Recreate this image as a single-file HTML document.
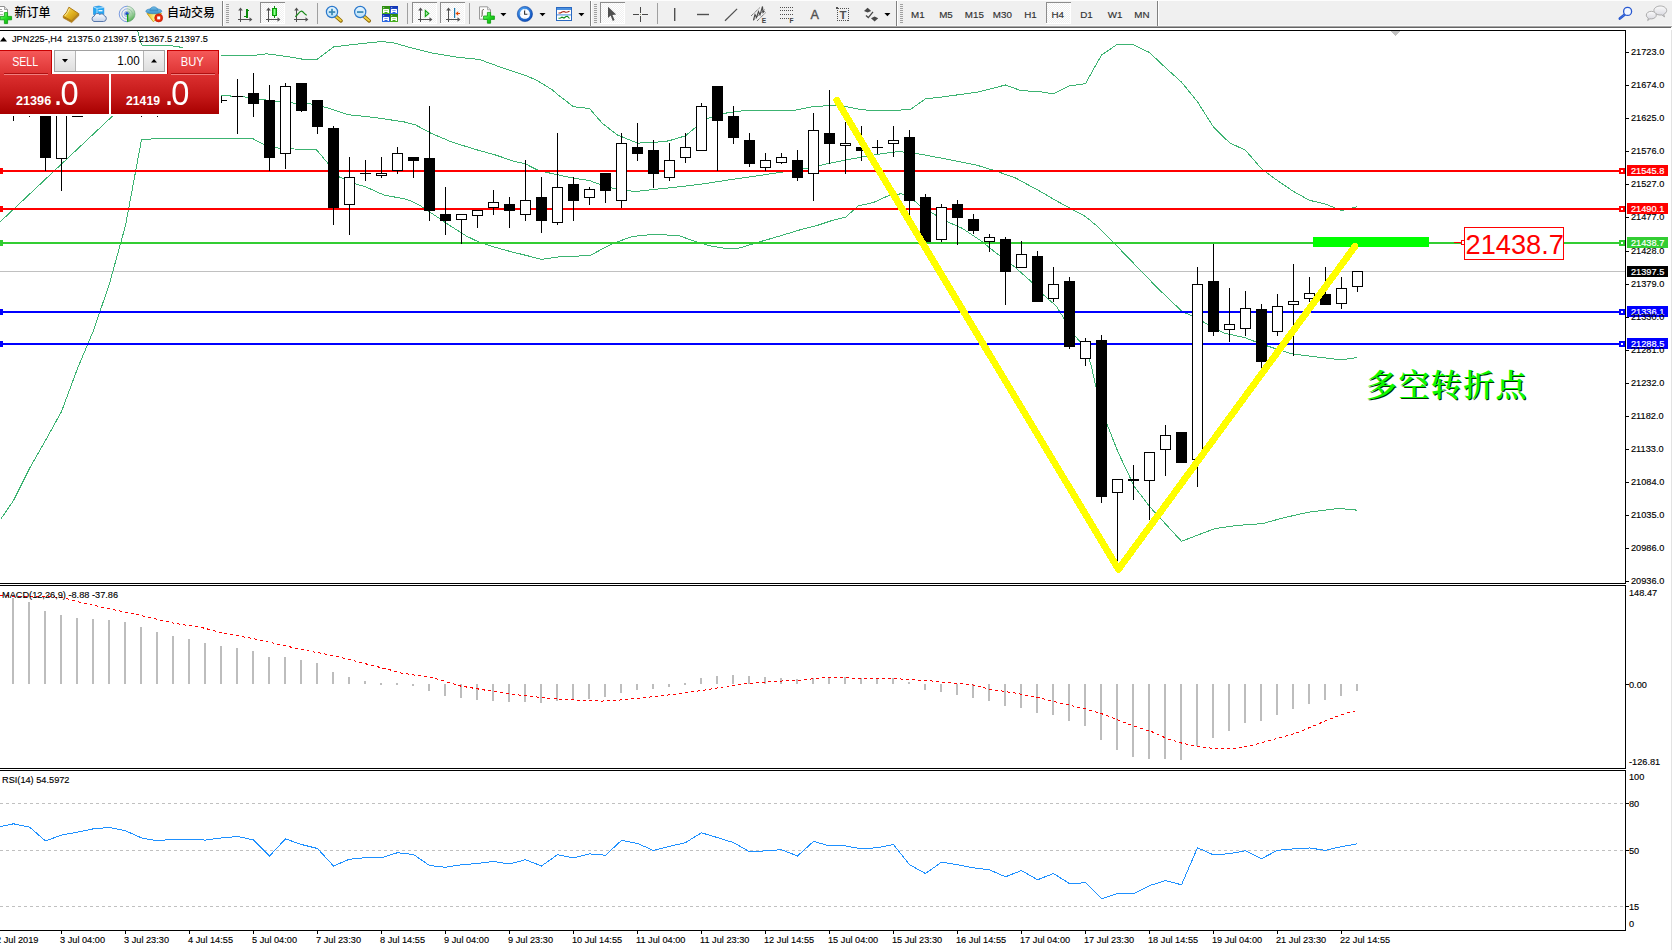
<!DOCTYPE html>
<html lang="zh"><head><meta charset="utf-8"><title>JPN225-,H4</title>
<style>
html,body{margin:0;padding:0;background:#fff;overflow:hidden}
body{width:1672px;height:950px;position:relative;font-family:'Liberation Sans', sans-serif}
svg{position:absolute;left:0;top:0;display:block}
.ax{font-family:'Liberation Sans', sans-serif;font-size:9.75px}
.cjk{font-family:"Liberation Sans","Noto Sans CJK SC",sans-serif;font-size:12px;font-weight:500}
</style></head><body>
<svg width="1672" height="950" viewBox="0 0 1672 950">
<rect width="1672" height="950" fill="#fff"/>
<g shape-rendering="crispEdges">
<rect x="0" y="271" width="1625" height="1" fill="#c0c0c0"/>
<g stroke="#3cb371" stroke-width="1">
<polyline points="137.5,30.5 141.5,45.0 175.5,46.1 182.5,47.7 189.5,50.5 221.5,55.1 250.5,55.8 266.5,53.8 285.5,56.3 301.5,59.0 317.5,59.0 333.5,47.0 351.5,44.7 381.5,41.5 393.5,42.8 413.5,48.5 431.5,52.9 456.5,57.1 479.5,59.5 501.5,67.5 526.5,75.8 537.5,80.7 552.5,90.0 557.5,94.5 573.5,106.7 589.5,108.5 602.5,123.5 617.5,135.0 637.5,143.1 653.5,142.5 668.5,140.9 685.5,135.8 696.5,126.5 707.5,118.5 726.5,113.0 741.5,111.0 766.5,110.3 794.5,110.3 809.5,107.2 815.5,106.5 830.5,105.5 845.5,106.5 861.5,109.8 888.5,111.0 910.5,109.3 925.5,98.9 941.5,97.1 977.5,92.1 1005.5,85.0 1021.5,90.8 1037.5,91.3 1053.5,93.8 1069.5,85.9 1085.5,83.6 1101.5,55.0 1117.5,44.2 1133.5,44.9 1149.5,52.5 1165.5,67.7 1181.5,82.1 1197.5,101.8 1213.5,127.1 1229.5,142.7 1245.5,150.3 1261.5,168.8 1277.5,180.6 1293.5,191.5 1309.5,200.3 1325.5,204.1 1341.5,210.5 1357.5,206.7" fill="none" />
<polyline points="0.5,221.5 111.5,117.0 160.5,70.5 221.5,95.5 229.5,95.5 231.5,96.5 243.5,96.8 263.5,99.7 278.5,101.5 292.5,103.0 310.5,103.9 326.5,107.5 348.5,114.7 376.5,117.7 404.5,122.0 415.5,124.9 430.5,133.0 450.5,141.5 473.5,148.9 496.5,155.3 514.5,161.5 524.5,163.4 538.5,170.5 552.5,173.7 572.5,178.0 589.5,180.5 602.5,185.5 617.5,189.5 635.5,191.5 653.5,189.5 673.5,187.5 703.5,183.8 728.5,180.0 754.5,176.2 779.5,172.5 794.5,170.5 809.5,167.9 825.5,164.1 850.5,159.1 876.5,154.5 898.5,151.5 914.5,153.2 926.5,155.3 952.5,160.3 977.5,165.4 995.5,170.9 1015.5,178.0 1040.5,191.5 1055.5,200.3 1070.5,208.5 1085.5,216.5 1098.5,227.3 1113.5,242.5 1127.5,257.0 1157.5,288.0 1182.5,311.9 1192.5,315.9 1209.5,325.3 1223.5,332.9 1245.5,337.9 1258.5,343.0 1273.5,348.0 1291.5,353.8 1309.5,356.1 1326.5,358.1 1341.5,359.9 1357.5,357.5" fill="none" />
<polyline points="0.5,519.5 13.5,500.5 29.5,468.5 45.5,440.5 61.5,411.5 77.5,368.5 93.5,330.5 109.5,283.5 125.5,225.5 141.5,139.8 157.5,138.5 166.5,138.1 246.5,138.1 253.5,139.0 264.5,145.0 280.5,148.5 316.5,149.8 328.5,164.0 339.5,177.1 354.5,183.5 366.5,187.2 384.5,195.3 404.5,198.7 410.5,200.8 420.5,205.8 433.5,214.5 450.5,226.0 466.5,236.1 478.5,241.9 491.5,246.2 509.5,251.3 526.5,255.5 541.5,259.4 562.5,256.3 589.5,255.8 602.5,248.8 615.5,242.5 632.5,236.5 653.5,234.4 678.5,235.5 696.5,241.9 711.5,246.2 728.5,248.8 739.5,248.0 759.5,241.9 779.5,236.1 804.5,228.5 815.5,226.0 830.5,221.0 845.5,217.2 858.5,205.8 873.5,202.5 888.5,195.7 901.5,193.7 911.5,198.2 921.5,207.1 947.5,221.7 962.5,228.5 980.5,240.5 995.5,252.5 1013.5,265.9 1030.5,281.0 1043.5,294.9 1056.5,306.3 1063.5,317.7 1075.5,336.5 1086.5,349.5 1091.5,367.0 1096.5,389.5 1107.5,425.5 1118.2,452.5 1134.3,486.5 1149.5,506.5 1181.5,541.3 1214.5,528.7 1237.5,525.4 1262.5,523.6 1283.5,517.8 1308.5,512.2 1338.5,508.4 1357.5,510.2" fill="none" />
</g>
<rect x="0" y="170" width="1625" height="2" fill="#ff0000"/>
<rect x="0" y="168" width="3" height="6" fill="#ff0000"/>
<rect x="1619" y="168" width="6" height="6" fill="#ff0000"/>
<rect x="1621" y="170" width="2" height="2" fill="#fff"/>
<rect x="1627" y="165" width="41" height="11" fill="#ff0000"/>
<text transform="translate(1631,173.6) scale(0.945,1)" class="ax" fill="#fff" stroke="#fff" stroke-width="0.2" text-anchor="start" xml:space="preserve">21545.8</text>
<rect x="0" y="208" width="1625" height="2" fill="#ff0000"/>
<rect x="0" y="206" width="3" height="6" fill="#ff0000"/>
<rect x="1619" y="206" width="6" height="6" fill="#ff0000"/>
<rect x="1621" y="208" width="2" height="2" fill="#fff"/>
<rect x="1627" y="203" width="41" height="11" fill="#ff0000"/>
<text transform="translate(1631,211.6) scale(0.945,1)" class="ax" fill="#fff" stroke="#fff" stroke-width="0.2" text-anchor="start" xml:space="preserve">21490.1</text>
<rect x="0" y="242" width="1625" height="2" fill="#32cd32"/>
<rect x="0" y="240" width="3" height="6" fill="#32cd32"/>
<rect x="1619" y="240" width="6" height="6" fill="#32cd32"/>
<rect x="1621" y="242" width="2" height="2" fill="#fff"/>
<rect x="1627" y="237" width="41" height="11" fill="#32cd32"/>
<text transform="translate(1631,245.6) scale(0.945,1)" class="ax" fill="#fff" stroke="#fff" stroke-width="0.2" text-anchor="start" xml:space="preserve">21438.7</text>
<rect x="0" y="311" width="1625" height="2" fill="#0000ff"/>
<rect x="0" y="309" width="3" height="6" fill="#0000ff"/>
<rect x="1619" y="309" width="6" height="6" fill="#0000ff"/>
<rect x="1621" y="311" width="2" height="2" fill="#fff"/>
<rect x="1627" y="306" width="41" height="11" fill="#0000ff"/>
<text transform="translate(1631,314.6) scale(0.945,1)" class="ax" fill="#fff" stroke="#fff" stroke-width="0.2" text-anchor="start" xml:space="preserve">21336.1</text>
<rect x="0" y="343" width="1625" height="2" fill="#0000ff"/>
<rect x="0" y="341" width="3" height="6" fill="#0000ff"/>
<rect x="1619" y="341" width="6" height="6" fill="#0000ff"/>
<rect x="1621" y="343" width="2" height="2" fill="#fff"/>
<rect x="1627" y="338" width="41" height="11" fill="#0000ff"/>
<text transform="translate(1631,346.6) scale(0.945,1)" class="ax" fill="#fff" stroke="#fff" stroke-width="0.2" text-anchor="start" xml:space="preserve">21288.5</text>
<g fill="#000">
<rect x="13" y="100" width="1" height="21"/>
<rect x="8" y="100" width="11" height="1"/>
<rect x="29" y="100" width="1" height="17"/>
<rect x="24" y="100" width="11" height="1"/>
<rect x="45" y="90" width="1" height="81"/>
<rect x="40" y="90" width="11" height="68"/>
<rect x="61" y="90" width="1" height="101"/>
<rect x="56" y="90" width="11" height="69"/>
<rect x="57" y="91" width="9" height="67" fill="#fff"/>
<rect x="77" y="100" width="1" height="17"/>
<rect x="72" y="116" width="11" height="1"/>
<rect x="141" y="100" width="1" height="17"/>
<rect x="136" y="100" width="11" height="1"/>
<rect x="157" y="100" width="1" height="17"/>
<rect x="152" y="100" width="11" height="1"/>
<rect x="221" y="96" width="1" height="7"/>
<rect x="216" y="100" width="11" height="1"/>
<rect x="237" y="79" width="1" height="55"/>
<rect x="232" y="96" width="11" height="1"/>
<rect x="253" y="73" width="1" height="44"/>
<rect x="248" y="93" width="11" height="11"/>
<rect x="269" y="85" width="1" height="86"/>
<rect x="264" y="100" width="11" height="58"/>
<rect x="285" y="83" width="1" height="86"/>
<rect x="280" y="86" width="11" height="68"/>
<rect x="281" y="87" width="9" height="66" fill="#fff"/>
<rect x="301" y="83" width="1" height="29"/>
<rect x="296" y="83" width="11" height="28"/>
<rect x="317" y="100" width="1" height="34"/>
<rect x="312" y="100" width="11" height="27"/>
<rect x="333" y="126" width="1" height="99"/>
<rect x="328" y="128" width="11" height="80"/>
<rect x="349" y="157" width="1" height="78"/>
<rect x="344" y="177" width="11" height="28"/>
<rect x="345" y="178" width="9" height="26" fill="#fff"/>
<rect x="365" y="160" width="1" height="21"/>
<rect x="360" y="173" width="11" height="1"/>
<rect x="381" y="157" width="1" height="21"/>
<rect x="376" y="173" width="11" height="3"/>
<rect x="377" y="174" width="9" height="1" fill="#fff"/>
<rect x="397" y="147" width="1" height="27"/>
<rect x="392" y="153" width="11" height="18"/>
<rect x="393" y="154" width="9" height="16" fill="#fff"/>
<rect x="413" y="157" width="1" height="21"/>
<rect x="408" y="157" width="11" height="4"/>
<rect x="429" y="106" width="1" height="115"/>
<rect x="424" y="158" width="11" height="53"/>
<rect x="445" y="187" width="1" height="48"/>
<rect x="440" y="214" width="11" height="7"/>
<rect x="461" y="214" width="1" height="30"/>
<rect x="456" y="214" width="11" height="6"/>
<rect x="457" y="215" width="9" height="4" fill="#fff"/>
<rect x="477" y="211" width="1" height="17"/>
<rect x="472" y="210" width="11" height="6"/>
<rect x="473" y="211" width="9" height="4" fill="#fff"/>
<rect x="493" y="190" width="1" height="25"/>
<rect x="488" y="202" width="11" height="6"/>
<rect x="489" y="203" width="9" height="4" fill="#fff"/>
<rect x="509" y="197" width="1" height="31"/>
<rect x="504" y="204" width="11" height="7"/>
<rect x="525" y="160" width="1" height="61"/>
<rect x="520" y="200" width="11" height="15"/>
<rect x="521" y="201" width="9" height="13" fill="#fff"/>
<rect x="541" y="177" width="1" height="56"/>
<rect x="536" y="197" width="11" height="24"/>
<rect x="557" y="133" width="1" height="92"/>
<rect x="552" y="187" width="11" height="36"/>
<rect x="553" y="188" width="9" height="34" fill="#fff"/>
<rect x="573" y="177" width="1" height="44"/>
<rect x="568" y="184" width="11" height="17"/>
<rect x="589" y="187" width="1" height="18"/>
<rect x="584" y="189" width="11" height="9"/>
<rect x="585" y="190" width="9" height="7" fill="#fff"/>
<rect x="605" y="173" width="1" height="30"/>
<rect x="600" y="173" width="11" height="18"/>
<rect x="621" y="133" width="1" height="75"/>
<rect x="616" y="143" width="11" height="58"/>
<rect x="617" y="144" width="9" height="56" fill="#fff"/>
<rect x="637" y="123" width="1" height="38"/>
<rect x="632" y="147" width="11" height="7"/>
<rect x="653" y="140" width="1" height="48"/>
<rect x="648" y="150" width="11" height="24"/>
<rect x="669" y="143" width="1" height="38"/>
<rect x="664" y="160" width="11" height="18"/>
<rect x="665" y="161" width="9" height="16" fill="#fff"/>
<rect x="685" y="133" width="1" height="30"/>
<rect x="680" y="147" width="11" height="11"/>
<rect x="681" y="148" width="9" height="9" fill="#fff"/>
<rect x="701" y="103" width="1" height="48"/>
<rect x="696" y="106" width="11" height="45"/>
<rect x="697" y="107" width="9" height="43" fill="#fff"/>
<rect x="717" y="86" width="1" height="85"/>
<rect x="712" y="86" width="11" height="35"/>
<rect x="733" y="106" width="1" height="38"/>
<rect x="728" y="116" width="11" height="22"/>
<rect x="749" y="133" width="1" height="34"/>
<rect x="744" y="140" width="11" height="24"/>
<rect x="765" y="153" width="1" height="18"/>
<rect x="760" y="160" width="11" height="8"/>
<rect x="761" y="161" width="9" height="6" fill="#fff"/>
<rect x="781" y="153" width="1" height="11"/>
<rect x="776" y="157" width="11" height="6"/>
<rect x="777" y="158" width="9" height="4" fill="#fff"/>
<rect x="797" y="150" width="1" height="31"/>
<rect x="792" y="160" width="11" height="18"/>
<rect x="813" y="113" width="1" height="88"/>
<rect x="808" y="130" width="11" height="44"/>
<rect x="809" y="131" width="9" height="42" fill="#fff"/>
<rect x="829" y="90" width="1" height="74"/>
<rect x="824" y="133" width="11" height="11"/>
<rect x="845" y="122" width="1" height="52"/>
<rect x="840" y="143" width="11" height="3"/>
<rect x="841" y="144" width="9" height="1" fill="#fff"/>
<rect x="861" y="126" width="1" height="35"/>
<rect x="856" y="147" width="11" height="4"/>
<rect x="877" y="140" width="1" height="14"/>
<rect x="872" y="147" width="11" height="1"/>
<rect x="893" y="126" width="1" height="31"/>
<rect x="888" y="140" width="11" height="4"/>
<rect x="889" y="141" width="9" height="2" fill="#fff"/>
<rect x="909" y="130" width="1" height="85"/>
<rect x="904" y="137" width="11" height="64"/>
<rect x="925" y="194" width="1" height="48"/>
<rect x="920" y="197" width="11" height="45"/>
<rect x="941" y="204" width="1" height="38"/>
<rect x="936" y="207" width="11" height="33"/>
<rect x="937" y="208" width="9" height="31" fill="#fff"/>
<rect x="957" y="200" width="1" height="45"/>
<rect x="952" y="204" width="11" height="14"/>
<rect x="973" y="214" width="1" height="20"/>
<rect x="968" y="219" width="11" height="12"/>
<rect x="989" y="234" width="1" height="18"/>
<rect x="984" y="237" width="11" height="5"/>
<rect x="985" y="238" width="9" height="3" fill="#fff"/>
<rect x="1005" y="237" width="1" height="68"/>
<rect x="1000" y="239" width="11" height="33"/>
<rect x="1021" y="241" width="1" height="27"/>
<rect x="1016" y="254" width="11" height="14"/>
<rect x="1017" y="255" width="9" height="12" fill="#fff"/>
<rect x="1037" y="251" width="1" height="51"/>
<rect x="1032" y="256" width="11" height="46"/>
<rect x="1053" y="267" width="1" height="35"/>
<rect x="1048" y="284" width="11" height="15"/>
<rect x="1049" y="285" width="9" height="13" fill="#fff"/>
<rect x="1069" y="277" width="1" height="72"/>
<rect x="1064" y="281" width="11" height="66"/>
<rect x="1085" y="338" width="1" height="28"/>
<rect x="1080" y="341" width="11" height="18"/>
<rect x="1081" y="342" width="9" height="16" fill="#fff"/>
<rect x="1101" y="335" width="1" height="168"/>
<rect x="1096" y="340" width="11" height="157"/>
<rect x="1117" y="479" width="1" height="82"/>
<rect x="1112" y="479" width="11" height="14"/>
<rect x="1113" y="480" width="9" height="12" fill="#fff"/>
<rect x="1133" y="465" width="1" height="35"/>
<rect x="1128" y="479" width="11" height="2"/>
<rect x="1149" y="452" width="1" height="68"/>
<rect x="1144" y="452" width="11" height="29"/>
<rect x="1145" y="453" width="9" height="27" fill="#fff"/>
<rect x="1165" y="425" width="1" height="51"/>
<rect x="1160" y="435" width="11" height="15"/>
<rect x="1161" y="436" width="9" height="13" fill="#fff"/>
<rect x="1181" y="432" width="1" height="31"/>
<rect x="1176" y="432" width="11" height="31"/>
<rect x="1197" y="267" width="1" height="220"/>
<rect x="1192" y="284" width="11" height="176"/>
<rect x="1193" y="285" width="9" height="174" fill="#fff"/>
<rect x="1213" y="244" width="1" height="92"/>
<rect x="1208" y="281" width="11" height="51"/>
<rect x="1229" y="288" width="1" height="54"/>
<rect x="1224" y="324" width="11" height="6"/>
<rect x="1225" y="325" width="9" height="4" fill="#fff"/>
<rect x="1245" y="291" width="1" height="45"/>
<rect x="1240" y="308" width="11" height="21"/>
<rect x="1241" y="309" width="9" height="19" fill="#fff"/>
<rect x="1261" y="304" width="1" height="64"/>
<rect x="1256" y="309" width="11" height="53"/>
<rect x="1277" y="294" width="1" height="42"/>
<rect x="1272" y="306" width="11" height="26"/>
<rect x="1273" y="307" width="9" height="24" fill="#fff"/>
<rect x="1293" y="264" width="1" height="92"/>
<rect x="1288" y="301" width="11" height="4"/>
<rect x="1289" y="302" width="9" height="2" fill="#fff"/>
<rect x="1309" y="277" width="1" height="25"/>
<rect x="1304" y="293" width="11" height="6"/>
<rect x="1305" y="294" width="9" height="4" fill="#fff"/>
<rect x="1325" y="267" width="1" height="38"/>
<rect x="1320" y="294" width="11" height="11"/>
<rect x="1341" y="277" width="1" height="32"/>
<rect x="1336" y="288" width="11" height="16"/>
<rect x="1337" y="289" width="9" height="14" fill="#fff"/>
<rect x="1357" y="271" width="1" height="21"/>
<rect x="1352" y="271" width="11" height="16"/>
<rect x="1353" y="272" width="9" height="14" fill="#fff"/>
</g>
<rect x="1313" y="237" width="116" height="10" fill="#00ff00"/>
</g>
<polyline points="836.7,100.2 1118.5,569.3 1355,246.3" fill="none" stroke="#ffff00" stroke-width="6.8" stroke-linejoin="round" stroke-linecap="round" shape-rendering="crispEdges"/>
<g shape-rendering="crispEdges">
<rect x="1454" y="242" width="8" height="1" fill="#ff0000"/>
<rect x="1461.5" y="240.5" width="3" height="4" fill="#fff" stroke="#ff0000"/>
<rect x="1464.5" y="227.5" width="99" height="32" fill="#fff" stroke="#ff0000"/>
</g>
<text transform="translate(1465.6,253.8) scale(0.965,1)" fill="#ff0000" font-family="'Liberation Sans', sans-serif" font-size="28.2px">21438.7</text>
<text x="1366" y="395.5" font-family="'Liberation Serif','Noto Serif CJK SC',serif" font-weight="600" font-size="31px" fill="#0cfa00" style="text-shadow:1px 1px 0 #023002" letter-spacing="1.4">多空转折点</text>
<g shape-rendering="crispEdges" fill="#000">
<rect x="0" y="30" width="1626" height="1"/>
<rect x="1625" y="30" width="1" height="901"/>
<rect x="1626" y="52" width="3" height="1"/>
<rect x="1626" y="85" width="3" height="1"/>
<rect x="1626" y="118" width="3" height="1"/>
<rect x="1626" y="151" width="3" height="1"/>
<rect x="1626" y="184" width="3" height="1"/>
<rect x="1626" y="217" width="3" height="1"/>
<rect x="1626" y="251" width="3" height="1"/>
<rect x="1626" y="284" width="3" height="1"/>
<rect x="1626" y="317" width="3" height="1"/>
<rect x="1626" y="350" width="3" height="1"/>
<rect x="1626" y="383" width="3" height="1"/>
<rect x="1626" y="416" width="3" height="1"/>
<rect x="1626" y="449" width="3" height="1"/>
<rect x="1626" y="482" width="3" height="1"/>
<rect x="1626" y="515" width="3" height="1"/>
<rect x="1626" y="548" width="3" height="1"/>
<rect x="1626" y="581" width="3" height="1"/>
<rect x="0" y="583" width="1626" height="1"/>
<rect x="0" y="585" width="1626" height="1"/>
<rect x="0" y="768" width="1626" height="1"/>
<rect x="0" y="770" width="1626" height="1"/>
<rect x="1625" y="584" width="1" height="1" fill="#fff"/><rect x="1625" y="769" width="1" height="1" fill="#fff"/>
<rect x="0" y="584" width="1625" height="1" fill="#fff"/><rect x="0" y="769" width="1625" height="1" fill="#fff"/>
<rect x="0" y="930" width="1626" height="1"/>
<rect x="61" y="931" width="1" height="3"/>
<rect x="125" y="931" width="1" height="3"/>
<rect x="189" y="931" width="1" height="3"/>
<rect x="253" y="931" width="1" height="3"/>
<rect x="317" y="931" width="1" height="3"/>
<rect x="381" y="931" width="1" height="3"/>
<rect x="445" y="931" width="1" height="3"/>
<rect x="509" y="931" width="1" height="3"/>
<rect x="573" y="931" width="1" height="3"/>
<rect x="637" y="931" width="1" height="3"/>
<rect x="701" y="931" width="1" height="3"/>
<rect x="765" y="931" width="1" height="3"/>
<rect x="829" y="931" width="1" height="3"/>
<rect x="893" y="931" width="1" height="3"/>
<rect x="957" y="931" width="1" height="3"/>
<rect x="1021" y="931" width="1" height="3"/>
<rect x="1085" y="931" width="1" height="3"/>
<rect x="1149" y="931" width="1" height="3"/>
<rect x="1213" y="931" width="1" height="3"/>
<rect x="1277" y="931" width="1" height="3"/>
<rect x="1341" y="931" width="1" height="3"/>
<rect x="1626" y="684" width="3" height="1"/>
<rect x="1626" y="803" width="3" height="1"/>
<rect x="1626" y="850" width="3" height="1"/>
<rect x="1626" y="906" width="3" height="1"/>
<polygon points="1391,31 1400,31 1395.5,36" fill="#c0c0c0"/>
</g>
<g fill="#000">
<text transform="translate(1631,55.4) scale(0.945,1)" class="ax" fill="#000" stroke="#000" stroke-width="0.14" text-anchor="start" xml:space="preserve">21723.0</text>
<text transform="translate(1631,88.4) scale(0.945,1)" class="ax" fill="#000" stroke="#000" stroke-width="0.14" text-anchor="start" xml:space="preserve">21674.0</text>
<text transform="translate(1631,121.4) scale(0.945,1)" class="ax" fill="#000" stroke="#000" stroke-width="0.14" text-anchor="start" xml:space="preserve">21625.0</text>
<text transform="translate(1631,154.4) scale(0.945,1)" class="ax" fill="#000" stroke="#000" stroke-width="0.14" text-anchor="start" xml:space="preserve">21576.0</text>
<text transform="translate(1631,187.4) scale(0.945,1)" class="ax" fill="#000" stroke="#000" stroke-width="0.14" text-anchor="start" xml:space="preserve">21527.0</text>
<text transform="translate(1631,220.4) scale(0.945,1)" class="ax" fill="#000" stroke="#000" stroke-width="0.14" text-anchor="start" xml:space="preserve">21477.0</text>
<text transform="translate(1631,254.4) scale(0.945,1)" class="ax" fill="#000" stroke="#000" stroke-width="0.14" text-anchor="start" xml:space="preserve">21428.0</text>
<text transform="translate(1631,287.4) scale(0.945,1)" class="ax" fill="#000" stroke="#000" stroke-width="0.14" text-anchor="start" xml:space="preserve">21379.0</text>
<text transform="translate(1631,320.4) scale(0.945,1)" class="ax" fill="#000" stroke="#000" stroke-width="0.14" text-anchor="start" xml:space="preserve">21330.0</text>
<text transform="translate(1631,353.4) scale(0.945,1)" class="ax" fill="#000" stroke="#000" stroke-width="0.14" text-anchor="start" xml:space="preserve">21281.0</text>
<text transform="translate(1631,386.4) scale(0.945,1)" class="ax" fill="#000" stroke="#000" stroke-width="0.14" text-anchor="start" xml:space="preserve">21232.0</text>
<text transform="translate(1631,419.4) scale(0.945,1)" class="ax" fill="#000" stroke="#000" stroke-width="0.14" text-anchor="start" xml:space="preserve">21182.0</text>
<text transform="translate(1631,452.4) scale(0.945,1)" class="ax" fill="#000" stroke="#000" stroke-width="0.14" text-anchor="start" xml:space="preserve">21133.0</text>
<text transform="translate(1631,485.4) scale(0.945,1)" class="ax" fill="#000" stroke="#000" stroke-width="0.14" text-anchor="start" xml:space="preserve">21084.0</text>
<text transform="translate(1631,518.4) scale(0.945,1)" class="ax" fill="#000" stroke="#000" stroke-width="0.14" text-anchor="start" xml:space="preserve">21035.0</text>
<text transform="translate(1631,551.4) scale(0.945,1)" class="ax" fill="#000" stroke="#000" stroke-width="0.14" text-anchor="start" xml:space="preserve">20986.0</text>
<text transform="translate(1631,584.4) scale(0.945,1)" class="ax" fill="#000" stroke="#000" stroke-width="0.14" text-anchor="start" xml:space="preserve">20936.0</text>
</g>
<rect x="1627" y="266" width="41" height="11" fill="#000" shape-rendering="crispEdges"/>
<text transform="translate(1631,274.6) scale(0.945,1)" class="ax" fill="#fff" stroke="#fff" stroke-width="0.2" text-anchor="start" xml:space="preserve">21397.5</text>
<g shape-rendering="crispEdges">
<g fill="#bdbdbd">
<rect x="12" y="598" width="2" height="86"/>
<rect x="28" y="602" width="2" height="82"/>
<rect x="44" y="611" width="2" height="73"/>
<rect x="60" y="615" width="2" height="69"/>
<rect x="76" y="618" width="2" height="66"/>
<rect x="92" y="619" width="2" height="65"/>
<rect x="108" y="620" width="2" height="64"/>
<rect x="124" y="622" width="2" height="62"/>
<rect x="140" y="627" width="2" height="57"/>
<rect x="156" y="632" width="2" height="52"/>
<rect x="172" y="636" width="2" height="48"/>
<rect x="188" y="639" width="2" height="45"/>
<rect x="204" y="643" width="2" height="41"/>
<rect x="220" y="646" width="2" height="38"/>
<rect x="236" y="648" width="2" height="36"/>
<rect x="252" y="651" width="2" height="33"/>
<rect x="268" y="657" width="2" height="27"/>
<rect x="284" y="657" width="2" height="27"/>
<rect x="300" y="660" width="2" height="24"/>
<rect x="316" y="663" width="2" height="21"/>
<rect x="332" y="672" width="2" height="12"/>
<rect x="348" y="677" width="2" height="7"/>
<rect x="364" y="681" width="2" height="3"/>
<rect x="380" y="683" width="2" height="2"/>
<rect x="396" y="683" width="2" height="2"/>
<rect x="412" y="684" width="2" height="2"/>
<rect x="428" y="684" width="2" height="7"/>
<rect x="444" y="684" width="2" height="12"/>
<rect x="460" y="684" width="2" height="14"/>
<rect x="476" y="684" width="2" height="16"/>
<rect x="492" y="684" width="2" height="17"/>
<rect x="508" y="684" width="2" height="18"/>
<rect x="524" y="684" width="2" height="18"/>
<rect x="540" y="684" width="2" height="19"/>
<rect x="556" y="684" width="2" height="17"/>
<rect x="572" y="684" width="2" height="16"/>
<rect x="588" y="684" width="2" height="15"/>
<rect x="604" y="684" width="2" height="13"/>
<rect x="620" y="684" width="2" height="9"/>
<rect x="636" y="684" width="2" height="6"/>
<rect x="652" y="684" width="2" height="5"/>
<rect x="668" y="684" width="2" height="3"/>
<rect x="684" y="683" width="2" height="2"/>
<rect x="700" y="678" width="2" height="6"/>
<rect x="716" y="676" width="2" height="8"/>
<rect x="732" y="675" width="2" height="9"/>
<rect x="748" y="676" width="2" height="8"/>
<rect x="764" y="677" width="2" height="7"/>
<rect x="780" y="678" width="2" height="6"/>
<rect x="796" y="679" width="2" height="5"/>
<rect x="812" y="678" width="2" height="6"/>
<rect x="828" y="678" width="2" height="6"/>
<rect x="844" y="677" width="2" height="7"/>
<rect x="860" y="678" width="2" height="6"/>
<rect x="876" y="678" width="2" height="6"/>
<rect x="892" y="678" width="2" height="6"/>
<rect x="908" y="682" width="2" height="2"/>
<rect x="924" y="684" width="2" height="6"/>
<rect x="940" y="684" width="2" height="8"/>
<rect x="956" y="684" width="2" height="11"/>
<rect x="972" y="684" width="2" height="14"/>
<rect x="988" y="684" width="2" height="17"/>
<rect x="1004" y="684" width="2" height="22"/>
<rect x="1020" y="684" width="2" height="24"/>
<rect x="1036" y="684" width="2" height="29"/>
<rect x="1052" y="684" width="2" height="31"/>
<rect x="1068" y="684" width="2" height="37"/>
<rect x="1084" y="684" width="2" height="42"/>
<rect x="1100" y="684" width="2" height="56"/>
<rect x="1116" y="684" width="2" height="66"/>
<rect x="1132" y="684" width="2" height="73"/>
<rect x="1148" y="684" width="2" height="75"/>
<rect x="1164" y="684" width="2" height="75"/>
<rect x="1180" y="684" width="2" height="76"/>
<rect x="1196" y="684" width="2" height="62"/>
<rect x="1212" y="684" width="2" height="54"/>
<rect x="1228" y="684" width="2" height="47"/>
<rect x="1244" y="684" width="2" height="39"/>
<rect x="1260" y="684" width="2" height="37"/>
<rect x="1276" y="684" width="2" height="31"/>
<rect x="1292" y="684" width="2" height="25"/>
<rect x="1308" y="684" width="2" height="20"/>
<rect x="1324" y="684" width="2" height="16"/>
<rect x="1340" y="684" width="2" height="12"/>
<rect x="1356" y="684" width="2" height="7"/>
</g>
<polyline points="0.5,595.9 45.5,596.5 63.5,597.5 69.5,599.5 82.5,602.8 100.5,606.9 136.5,614.5 173.5,623.2 201.5,627.5 226.5,633.8 251.5,638.3 276.5,643.8 301.5,649.5 334.5,655.9 364.5,663.5 392.5,670.5 400.5,672.9 433.5,678.0 460.5,686.0 490.5,691.0 526.5,696.0 551.5,698.5 576.5,700.1 601.5,701.1 614.5,700.5 639.5,698.1 664.5,695.5 689.5,692.3 714.5,688.5 739.5,684.2 764.5,682.2 789.5,680.5 800.5,680.2 823.5,677.7 850.5,678.0 900.5,679.0 931.5,681.0 971.5,684.7 988.5,689.0 1013.5,692.8 1039.5,697.8 1064.5,704.1 1084.5,708.6 1101.5,713.6 1119.5,720.7 1134.5,726.2 1152.5,732.0 1167.5,738.8 1182.5,743.3 1197.5,746.3 1212.5,748.3 1217.5,749.0 1240.5,747.9 1256.5,744.2 1276.5,738.6 1296.5,733.0 1313.5,725.9 1330.5,718.8 1347.5,712.6 1357.5,710.5" fill="none" stroke="#ff0000" stroke-width="1" stroke-dasharray="3 3"/>
</g>
<text transform="translate(2,598) scale(0.945,1)" class="ax" fill="#000" stroke="#000" stroke-width="0.14" text-anchor="start" xml:space="preserve">MACD(12,26,9) -8.88 -37.86</text>
<text transform="translate(1629,596) scale(0.945,1)" class="ax" fill="#000" stroke="#000" stroke-width="0.14" text-anchor="start" xml:space="preserve">148.47</text>
<text transform="translate(1629,688) scale(0.945,1)" class="ax" fill="#000" stroke="#000" stroke-width="0.14" text-anchor="start" xml:space="preserve">0.00</text>
<text transform="translate(1629,765) scale(0.945,1)" class="ax" fill="#000" stroke="#000" stroke-width="0.14" text-anchor="start" xml:space="preserve">-126.81</text>
<g shape-rendering="crispEdges">
<line x1="0" y1="803.5" x2="1625" y2="803.5" stroke="#c0c0c0" stroke-dasharray="3 3"/>
<line x1="0" y1="850.5" x2="1625" y2="850.5" stroke="#c0c0c0" stroke-dasharray="3 3"/>
<line x1="0" y1="906.5" x2="1625" y2="906.5" stroke="#c0c0c0" stroke-dasharray="3 3"/>
<polyline points="0.5,826.5 13.5,823.8 29.5,827.1 45.5,840.9 61.5,835.1 77.5,832.1 93.5,828.8 109.5,827.5 125.5,830.8 141.5,837.9 157.5,840.9 173.5,839.1 189.5,839.1 205.5,840.1 221.5,837.9 237.5,836.5 253.5,839.9 269.5,856.0 285.5,838.9 301.5,844.5 317.5,848.5 333.5,866.0 349.5,859.2 365.5,857.7 381.5,857.7 397.5,852.7 413.5,854.5 429.5,865.5 445.5,867.3 461.5,864.7 477.5,863.5 493.5,861.5 509.5,864.0 525.5,859.7 541.5,866.0 557.5,854.7 573.5,858.0 589.5,853.9 605.5,855.2 621.5,840.4 637.5,843.4 653.5,850.5 669.5,846.4 685.5,842.6 701.5,832.8 717.5,837.6 733.5,842.6 749.5,851.7 765.5,850.9 781.5,849.7 797.5,856.0 813.5,841.4 829.5,845.9 845.5,845.9 861.5,848.9 877.5,847.7 893.5,844.6 909.5,864.7 925.5,873.5 941.5,862.2 957.5,864.7 973.5,867.8 989.5,869.8 1005.5,876.8 1021.5,870.5 1037.5,879.8 1053.5,873.5 1069.5,883.6 1085.5,882.8 1101.5,898.7 1117.5,893.6 1133.5,893.6 1149.5,885.6 1165.5,880.6 1181.5,884.8 1197.5,847.7 1213.5,854.9 1229.5,853.7 1245.5,850.8 1261.5,858.7 1277.5,850.3 1293.5,848.9 1309.5,848.0 1325.5,850.3 1341.5,846.6 1357.5,843.8" fill="none" stroke="#1e90ff" stroke-width="1"/>
</g>
<text transform="translate(2,783) scale(0.945,1)" class="ax" fill="#000" stroke="#000" stroke-width="0.14" text-anchor="start" xml:space="preserve">RSI(14) 54.5972</text>
<text transform="translate(1629,780.4) scale(0.945,1)" class="ax" fill="#000" stroke="#000" stroke-width="0.14" text-anchor="start" xml:space="preserve">100</text>
<text transform="translate(1629,807.4) scale(0.945,1)" class="ax" fill="#000" stroke="#000" stroke-width="0.14" text-anchor="start" xml:space="preserve">80</text>
<text transform="translate(1629,854.4) scale(0.945,1)" class="ax" fill="#000" stroke="#000" stroke-width="0.14" text-anchor="start" xml:space="preserve">50</text>
<text transform="translate(1629,910.4) scale(0.945,1)" class="ax" fill="#000" stroke="#000" stroke-width="0.14" text-anchor="start" xml:space="preserve">15</text>
<text transform="translate(1629,927.4) scale(0.945,1)" class="ax" fill="#000" stroke="#000" stroke-width="0.14" text-anchor="start" xml:space="preserve">0</text>
<text transform="translate(-4,943) scale(0.945,1)" class="ax" fill="#000" stroke="#000" stroke-width="0.14" text-anchor="start" xml:space="preserve">2 Jul 2019</text>
<text transform="translate(60,943) scale(0.945,1)" class="ax" fill="#000" stroke="#000" stroke-width="0.14" text-anchor="start" xml:space="preserve">3 Jul 04:00</text>
<text transform="translate(124,943) scale(0.945,1)" class="ax" fill="#000" stroke="#000" stroke-width="0.14" text-anchor="start" xml:space="preserve">3 Jul 23:30</text>
<text transform="translate(188,943) scale(0.945,1)" class="ax" fill="#000" stroke="#000" stroke-width="0.14" text-anchor="start" xml:space="preserve">4 Jul 14:55</text>
<text transform="translate(252,943) scale(0.945,1)" class="ax" fill="#000" stroke="#000" stroke-width="0.14" text-anchor="start" xml:space="preserve">5 Jul 04:00</text>
<text transform="translate(316,943) scale(0.945,1)" class="ax" fill="#000" stroke="#000" stroke-width="0.14" text-anchor="start" xml:space="preserve">7 Jul 23:30</text>
<text transform="translate(380,943) scale(0.945,1)" class="ax" fill="#000" stroke="#000" stroke-width="0.14" text-anchor="start" xml:space="preserve">8 Jul 14:55</text>
<text transform="translate(444,943) scale(0.945,1)" class="ax" fill="#000" stroke="#000" stroke-width="0.14" text-anchor="start" xml:space="preserve">9 Jul 04:00</text>
<text transform="translate(508,943) scale(0.945,1)" class="ax" fill="#000" stroke="#000" stroke-width="0.14" text-anchor="start" xml:space="preserve">9 Jul 23:30</text>
<text transform="translate(572,943) scale(0.945,1)" class="ax" fill="#000" stroke="#000" stroke-width="0.14" text-anchor="start" xml:space="preserve">10 Jul 14:55</text>
<text transform="translate(636,943) scale(0.945,1)" class="ax" fill="#000" stroke="#000" stroke-width="0.14" text-anchor="start" xml:space="preserve">11 Jul 04:00</text>
<text transform="translate(700,943) scale(0.945,1)" class="ax" fill="#000" stroke="#000" stroke-width="0.14" text-anchor="start" xml:space="preserve">11 Jul 23:30</text>
<text transform="translate(764,943) scale(0.945,1)" class="ax" fill="#000" stroke="#000" stroke-width="0.14" text-anchor="start" xml:space="preserve">12 Jul 14:55</text>
<text transform="translate(828,943) scale(0.945,1)" class="ax" fill="#000" stroke="#000" stroke-width="0.14" text-anchor="start" xml:space="preserve">15 Jul 04:00</text>
<text transform="translate(892,943) scale(0.945,1)" class="ax" fill="#000" stroke="#000" stroke-width="0.14" text-anchor="start" xml:space="preserve">15 Jul 23:30</text>
<text transform="translate(956,943) scale(0.945,1)" class="ax" fill="#000" stroke="#000" stroke-width="0.14" text-anchor="start" xml:space="preserve">16 Jul 14:55</text>
<text transform="translate(1020,943) scale(0.945,1)" class="ax" fill="#000" stroke="#000" stroke-width="0.14" text-anchor="start" xml:space="preserve">17 Jul 04:00</text>
<text transform="translate(1084,943) scale(0.945,1)" class="ax" fill="#000" stroke="#000" stroke-width="0.14" text-anchor="start" xml:space="preserve">17 Jul 23:30</text>
<text transform="translate(1148,943) scale(0.945,1)" class="ax" fill="#000" stroke="#000" stroke-width="0.14" text-anchor="start" xml:space="preserve">18 Jul 14:55</text>
<text transform="translate(1212,943) scale(0.945,1)" class="ax" fill="#000" stroke="#000" stroke-width="0.14" text-anchor="start" xml:space="preserve">19 Jul 04:00</text>
<text transform="translate(1276,943) scale(0.945,1)" class="ax" fill="#000" stroke="#000" stroke-width="0.14" text-anchor="start" xml:space="preserve">21 Jul 23:30</text>
<text transform="translate(1340,943) scale(0.945,1)" class="ax" fill="#000" stroke="#000" stroke-width="0.14" text-anchor="start" xml:space="preserve">22 Jul 14:55</text>
<polygon points="0,41.5 3.5,37 7,41.5" fill="#000"/>
<text transform="translate(12,41.8) scale(0.945,1)" class="ax" fill="#000" stroke="#000" stroke-width="0.14" text-anchor="start" xml:space="preserve">JPN225-,H4  21375.0 21397.5 21367.5 21397.5</text>
<rect x="1671" y="28" width="1" height="922" fill="#e3e3e3"/>
<defs>
<linearGradient id="gTab" x1="0" y1="0" x2="0" y2="1"><stop offset="0" stop-color="#f65a5a"/><stop offset="1" stop-color="#dc3232"/></linearGradient>
<linearGradient id="gBox" x1="0" y1="0" x2="0" y2="1"><stop offset="0" stop-color="#dc3030"/><stop offset="0.55" stop-color="#c41818"/><stop offset="1" stop-color="#a80000"/></linearGradient>
<linearGradient id="gBtn" x1="0" y1="0" x2="0" y2="1"><stop offset="0" stop-color="#f4f4f4"/><stop offset="1" stop-color="#dedede"/></linearGradient>
<filter id="thin" x="-10%" y="-10%" width="120%" height="120%"><feMorphology operator="erode" radius="0.42"/></filter>
</defs>
<g id="panel">
<rect x="0" y="48" width="221" height="68" fill="#fff"/>
<g shape-rendering="crispEdges">
<rect x="0" y="50" width="52" height="25" fill="url(#gTab)"/>
<rect x="0" y="50" width="52" height="1" fill="#c80000"/><rect x="51" y="50" width="1" height="24" fill="#c80000"/>
<rect x="167" y="50" width="52" height="25" fill="url(#gTab)"/>
<rect x="167" y="50" width="52" height="1" fill="#c80000"/><rect x="167" y="50" width="1" height="24" fill="#c80000"/><rect x="218" y="50" width="1" height="24" fill="#c80000"/>
<rect x="0" y="74" width="109" height="40" fill="url(#gBox)"/>
<rect x="111" y="74" width="108" height="40" fill="url(#gBox)"/>
<rect x="4" y="73" width="44" height="1" fill="#b01010"/><rect x="4" y="74" width="44" height="1" fill="#f08080"/>
<rect x="171" y="73" width="44" height="1" fill="#b01010"/><rect x="171" y="74" width="44" height="1" fill="#f08080"/>
<rect x="54.5" y="50.5" width="110" height="21" fill="#fff" stroke="#a0a0a0"/>
<rect x="55" y="51" width="20" height="20" fill="url(#gBtn)"/>
<rect x="144" y="51" width="20" height="20" fill="url(#gBtn)"/>
<rect x="75" y="51" width="1" height="20" fill="#b4b4b4"/><rect x="143" y="51" width="1" height="20" fill="#b4b4b4"/>
</g>
<polygon points="62,59 68,59 65,62.5" fill="#000"/>
<polygon points="151,62.5 157,62.5 154,59" fill="#000"/>
<text x="139.8" y="64.7" text-anchor="end" font-family="'Liberation Sans',sans-serif" font-size="12px" fill="#000" textLength="22.6" lengthAdjust="spacingAndGlyphs">1.00</text>
<text x="25.2" y="65.8" text-anchor="middle" font-family="'Liberation Sans',sans-serif" font-size="12.4px" fill="#fff" textLength="26" lengthAdjust="spacingAndGlyphs">SELL</text>
<text x="192.2" y="65.8" text-anchor="middle" font-family="'Liberation Sans',sans-serif" font-size="12.4px" fill="#fff" textLength="23" lengthAdjust="spacingAndGlyphs">BUY</text>
<text x="16" y="104.5" font-family="'Liberation Sans',sans-serif" font-weight="bold" font-size="12px" fill="#fff" textLength="35.2" lengthAdjust="spacingAndGlyphs">21396</text>
<text x="126" y="104.5" font-family="'Liberation Sans',sans-serif" font-weight="bold" font-size="12px" fill="#fff" textLength="34" lengthAdjust="spacingAndGlyphs">21419</text>
<g filter="url(#thin)" font-family="'Liberation Sans',sans-serif" font-size="35px" fill="#fff">
<text transform="translate(53.6,105.4) scale(0.93,1)">.</text>
<text transform="translate(60.4,105.4) scale(0.93,1)">0</text>
<text transform="translate(164.6,105.4) scale(0.93,1)">.</text>
<text transform="translate(171.2,105.4) scale(0.93,1)">0</text>
</g>
</g>

<defs>
<pattern id="chk" width="2" height="2" patternUnits="userSpaceOnUse"><rect width="2" height="2" fill="#f0f0f0"/><rect width="1" height="1" fill="#fff"/><rect x="1" y="1" width="1" height="1" fill="#fff"/></pattern>
<linearGradient id="gPlus" x1="0" y1="0" x2="1" y2="1"><stop offset="0" stop-color="#8dff8d"/><stop offset="0.5" stop-color="#22dd22"/><stop offset="1" stop-color="#0aa00a"/></linearGradient>
<linearGradient id="gGold" x1="0" y1="0" x2="1" y2="1"><stop offset="0" stop-color="#f8e070"/><stop offset="0.5" stop-color="#e2b420"/><stop offset="1" stop-color="#b07808"/></linearGradient>
<linearGradient id="gCandle" x1="0" y1="0" x2="1" y2="0"><stop offset="0" stop-color="#00c000"/><stop offset="0.5" stop-color="#90ff90"/><stop offset="1" stop-color="#00c000"/></linearGradient>
<linearGradient id="gLens" x1="0" y1="0" x2="0" y2="1"><stop offset="0" stop-color="#e8f6ff"/><stop offset="1" stop-color="#b8e0f8"/></linearGradient>
<linearGradient id="gCloud" x1="0" y1="0" x2="0" y2="1"><stop offset="0" stop-color="#ffffff"/><stop offset="1" stop-color="#c4d2e8"/></linearGradient>
<radialGradient id="gClock" cx="0.4" cy="0.35" r="0.7"><stop offset="0" stop-color="#60b8ff"/><stop offset="1" stop-color="#0848b8"/></radialGradient>
<linearGradient id="gBlueSq" x1="0" y1="0" x2="0" y2="1"><stop offset="0" stop-color="#1030b0"/><stop offset="1" stop-color="#3070e8"/></linearGradient>
<linearGradient id="gGreenSq" x1="0" y1="0" x2="0" y2="1"><stop offset="0" stop-color="#2a8a10"/><stop offset="1" stop-color="#48b020"/></linearGradient>
<linearGradient id="gHat" x1="0" y1="0" x2="0" y2="1"><stop offset="0" stop-color="#7cc4ec"/><stop offset="1" stop-color="#3c90c8"/></linearGradient>
<linearGradient id="gCone" x1="0" y1="0" x2="1" y2="0"><stop offset="0" stop-color="#e8b818"/><stop offset="0.5" stop-color="#fff088"/><stop offset="1" stop-color="#e8c030"/></linearGradient>
<linearGradient id="gBub" x1="0" y1="0" x2="0" y2="1"><stop offset="0" stop-color="#fafafa"/><stop offset="1" stop-color="#d4d4dc"/></linearGradient>
<linearGradient id="gSig" x1="0.2" y1="0" x2="0.6" y2="1"><stop offset="0" stop-color="#d8ecd8" stop-opacity="0.5"/><stop offset="0.55" stop-color="#88c888" stop-opacity="0.75"/><stop offset="1" stop-color="#38a038" stop-opacity="0.95"/></linearGradient>
</defs>
<g id="toolbar">
<rect x="0" y="0" width="1672" height="28" fill="#f0f0f0"/>
<rect x="0" y="0" width="1672" height="1" fill="#fdfdfd"/>
<rect x="0" y="25" width="1672" height="1" fill="#f8f8f8"/>
<rect x="0" y="26" width="1672" height="1" fill="#a8a8a8"/>
<rect x="0" y="27" width="1671" height="1" fill="#646464"/>
<rect x="0" y="28" width="1672" height="2" fill="#fff"/>
<g shape-rendering="crispEdges">
<rect x="222" y="1" width="1" height="25" fill="#808080"/><rect x="223" y="1" width="1" height="25" fill="#fff"/>
<rect x="226" y="4" width="3" height="1" fill="#a0a0a0"/>
<rect x="226" y="6" width="3" height="1" fill="#a0a0a0"/>
<rect x="226" y="8" width="3" height="1" fill="#a0a0a0"/>
<rect x="226" y="10" width="3" height="1" fill="#a0a0a0"/>
<rect x="226" y="12" width="3" height="1" fill="#a0a0a0"/>
<rect x="226" y="14" width="3" height="1" fill="#a0a0a0"/>
<rect x="226" y="16" width="3" height="1" fill="#a0a0a0"/>
<rect x="226" y="18" width="3" height="1" fill="#a0a0a0"/>
<rect x="226" y="20" width="3" height="1" fill="#a0a0a0"/>
<rect x="226" y="22" width="3" height="1" fill="#a0a0a0"/>
<rect x="260" y="2" width="25" height="22" fill="url(#chk)"/>
<rect x="260" y="2" width="25" height="1" fill="#8c8c8c"/><rect x="260" y="2" width="1" height="22" fill="#8c8c8c"/>
<rect x="260" y="23" width="25" height="1" fill="#fff"/><rect x="284" y="3" width="1" height="21" fill="#fff"/>
<rect x="317" y="3" width="1" height="21" fill="#a0a0a0"/>
<rect x="407" y="3" width="1" height="21" fill="#a0a0a0"/>
<rect x="412" y="2" width="25" height="22" fill="url(#chk)"/>
<rect x="412" y="2" width="25" height="1" fill="#8c8c8c"/><rect x="412" y="2" width="1" height="22" fill="#8c8c8c"/>
<rect x="412" y="23" width="25" height="1" fill="#fff"/><rect x="436" y="3" width="1" height="21" fill="#fff"/>
<rect x="440" y="2" width="25" height="22" fill="url(#chk)"/>
<rect x="440" y="2" width="25" height="1" fill="#8c8c8c"/><rect x="440" y="2" width="1" height="22" fill="#8c8c8c"/>
<rect x="440" y="23" width="25" height="1" fill="#fff"/><rect x="464" y="3" width="1" height="21" fill="#fff"/>
<rect x="469" y="3" width="1" height="21" fill="#a0a0a0"/>
<rect x="590" y="1" width="1" height="25" fill="#808080"/><rect x="591" y="1" width="1" height="25" fill="#fff"/>
<rect x="594" y="4" width="3" height="1" fill="#a0a0a0"/>
<rect x="594" y="6" width="3" height="1" fill="#a0a0a0"/>
<rect x="594" y="8" width="3" height="1" fill="#a0a0a0"/>
<rect x="594" y="10" width="3" height="1" fill="#a0a0a0"/>
<rect x="594" y="12" width="3" height="1" fill="#a0a0a0"/>
<rect x="594" y="14" width="3" height="1" fill="#a0a0a0"/>
<rect x="594" y="16" width="3" height="1" fill="#a0a0a0"/>
<rect x="594" y="18" width="3" height="1" fill="#a0a0a0"/>
<rect x="594" y="20" width="3" height="1" fill="#a0a0a0"/>
<rect x="594" y="22" width="3" height="1" fill="#a0a0a0"/>
<rect x="600" y="2" width="25" height="22" fill="url(#chk)"/>
<rect x="600" y="2" width="25" height="1" fill="#8c8c8c"/><rect x="600" y="2" width="1" height="22" fill="#8c8c8c"/>
<rect x="600" y="23" width="25" height="1" fill="#fff"/><rect x="624" y="3" width="1" height="21" fill="#fff"/>
<rect x="657" y="3" width="1" height="21" fill="#a0a0a0"/>
<rect x="896" y="1" width="1" height="25" fill="#808080"/><rect x="897" y="1" width="1" height="25" fill="#fff"/>
<rect x="900" y="4" width="3" height="1" fill="#a0a0a0"/>
<rect x="900" y="6" width="3" height="1" fill="#a0a0a0"/>
<rect x="900" y="8" width="3" height="1" fill="#a0a0a0"/>
<rect x="900" y="10" width="3" height="1" fill="#a0a0a0"/>
<rect x="900" y="12" width="3" height="1" fill="#a0a0a0"/>
<rect x="900" y="14" width="3" height="1" fill="#a0a0a0"/>
<rect x="900" y="16" width="3" height="1" fill="#a0a0a0"/>
<rect x="900" y="18" width="3" height="1" fill="#a0a0a0"/>
<rect x="900" y="20" width="3" height="1" fill="#a0a0a0"/>
<rect x="900" y="22" width="3" height="1" fill="#a0a0a0"/>
<rect x="1046" y="2" width="25" height="22" fill="url(#chk)"/>
<rect x="1046" y="2" width="25" height="1" fill="#8c8c8c"/><rect x="1046" y="2" width="1" height="22" fill="#8c8c8c"/>
<rect x="1046" y="23" width="25" height="1" fill="#fff"/><rect x="1070" y="3" width="1" height="21" fill="#fff"/>
<rect x="1157" y="1" width="1" height="25" fill="#808080"/><rect x="1158" y="1" width="1" height="25" fill="#fff"/>
</g>
<path d="M-4,6.5 H4.5 L7.5,9.5 V17.5 H-4 Z" fill="#fff" stroke="#909090" stroke-width="1"/>
<path d="M4.5,6.5 V9.5 H7.5" fill="#e0e0e0" stroke="#909090" stroke-width="0.8"/>
<rect x="-2" y="9" width="4" height="1" fill="#a0a0a0"/><rect x="-2" y="11" width="5" height="1" fill="#b0b0b0"/><rect x="-2" y="14" width="5" height="1" fill="#b0b0b0"/>
<path d="M4.4,12.6 H7.6 V16.4 H11.6 V19.8 H7.6 V23.6 H4.4 V19.8 H0.2 V16.4 H4.4 Z" fill="url(#gPlus)" stroke="#0c9a0c" stroke-width="0.8"/>
<text x="14.5" y="17" class="cjk" fill="#000">新订单</text>
<path d="M63.3,16.6 L71.6,21.2 L78.8,13.9 L78.9,15.6 L71.7,22.6 L63.3,17.9 Z" fill="#c08a14" stroke="#9a6406" stroke-width="0.6" stroke-linejoin="round"/>
<path d="M68.9,7.2 L78.7,13.6 L71.6,20.9 L63.2,16.2 Q67.2,12.6 68.9,7.2 Z" fill="url(#gGold)" stroke="#a87008" stroke-width="0.9" stroke-linejoin="round"/>
<path d="M69.4,8.6 Q67.8,13 64.8,15.9" stroke="#fff4b0" stroke-width="1" fill="none" opacity="0.85"/>
<path d="M93.5,7 L99,6 L103.8,7.5 L103.8,15 L97,16 L93.5,14.5 Z" fill="#22a6f2" stroke="#1488e0" stroke-width="0.6"/>
<path d="M93.5,7 L97,8.3 L103.8,7.5 M97,8.3 L97,16" stroke="#d8f0ff" stroke-width="0.8" fill="none"/>
<rect x="98.5" y="10" width="4" height="1.4" fill="#e8f6ff"/>
<path d="M94,21.5 H103.5 a3,3 0 0 0 0.6,-5.9 a2.6,2.6 0 0 0 -4.3,-1 a3.2,3.2 0 0 0 -5.6,1.5 a2.8,2.8 0 0 0 -0.2,5.4 Z" fill="url(#gCloud)" stroke="#5878ac" stroke-width="1"/>
<path d="M127.3,6.2 A7.8,7.8 0 0 1 127.3,21.8 Z" fill="url(#gSig)"/>
<g fill="none" stroke-linecap="round">
<path d="M127,21.8 A7.8,7.8 0 0 1 127,6.2" stroke="#4a78d8" stroke-width="1" opacity="0.7"/>
<path d="M127,19.2 A5.2,5.2 0 0 1 127,8.8" stroke="#5a88e0" stroke-width="1" opacity="0.65"/>
<path d="M127,16.8 A2.8,2.8 0 0 1 127,11.2" stroke="#5a88e0" stroke-width="1" opacity="0.6"/>
<path d="M127.3,6.2 A7.8,7.8 0 0 1 127.3,21.8" stroke="#5a9a70" stroke-width="0.9" opacity="0.55"/>
<path d="M127.3,8.8 A5.2,5.2 0 0 1 132.5,14" stroke="#7ab090" stroke-width="0.9" opacity="0.6"/>
<path d="M127.3,11.2 A2.8,2.8 0 0 1 130.1,14" stroke="#7ab090" stroke-width="0.9" opacity="0.6"/>
</g>
<circle cx="127" cy="13.8" r="1.8" fill="#2050c8"/>
<rect x="127" y="14" width="1.3" height="7.8" fill="#18a018"/>
<path d="M147,13.5 L153.4,21.8 L161.5,13.5 Z" fill="url(#gCone)" stroke="#c89810" stroke-width="0.8" stroke-linejoin="round"/>
<ellipse cx="153.8" cy="11.2" rx="8" ry="2.6" fill="url(#gHat)" stroke="#3888c0" stroke-width="0.7"/>
<path d="M149.8,10.8 C150,5.5 157.6,5.5 158,10.8 Z" fill="url(#gHat)" stroke="#3888c0" stroke-width="0.7"/>
<circle cx="158.7" cy="17.9" r="4" fill="#e82808" stroke="#b81800" stroke-width="0.6"/>
<rect x="157.2" y="16.4" width="3" height="3" fill="#fff"/>
<text x="167" y="17" class="cjk" fill="#000">自动交易</text>
<g fill="#505050" shape-rendering="crispEdges"><rect x="240" y="9" width="1" height="13"/><rect x="238" y="19" width="12" height="1"/></g>
<polygon points="238.2,10.5 240.5,7.6 242.8,10.5" fill="#505050"/>
<polygon points="249.5,17.2 252.4,19.5 249.5,21.8" fill="#505050"/>
<g fill="#0a8a0a" shape-rendering="crispEdges"><rect x="246" y="9" width="1.5" height="9"/><rect x="246" y="10" width="3" height="1.2"/><rect x="244" y="16" width="3" height="1.2"/></g>
<g fill="#505050" shape-rendering="crispEdges"><rect x="268" y="9" width="1" height="13"/><rect x="266" y="19" width="12" height="1"/></g>
<polygon points="266.2,10.5 268.5,7.6 270.8,10.5" fill="#505050"/>
<polygon points="277.5,17.2 280.4,19.5 277.5,21.8" fill="#505050"/>
<rect x="274" y="6" width="1" height="12" fill="#0a8a0a" shape-rendering="crispEdges"/>
<rect x="272.5" y="8.5" width="4" height="7" fill="url(#gCandle)" stroke="#0a9a0a" stroke-width="1"/>
<g fill="#505050" shape-rendering="crispEdges"><rect x="296" y="9" width="1" height="13"/><rect x="294" y="19" width="12" height="1"/></g>
<polygon points="294.2,10.5 296.5,7.6 298.8,10.5" fill="#505050"/>
<polygon points="305.5,17.2 308.4,19.5 305.5,21.8" fill="#505050"/>
<path d="M295.3,16.8 C298,15 299.5,11 301.5,11.2 C303.5,11.4 304.5,14.5 306.8,15.2" fill="none" stroke="#1a8a1a" stroke-width="1.2"/>
<path d="M335.6,16.2 L341,20.8" stroke="#8a6400" stroke-width="3.6" stroke-linecap="round"/>
<path d="M335.8,16.4 L340.8,20.6" stroke="#f0d040" stroke-width="2" stroke-linecap="round"/>
<circle cx="332" cy="12" r="5.6" fill="url(#gLens)" stroke="#2a78cc" stroke-width="1.2"/>
<rect x="328.8" y="11.2" width="6.4" height="1.7" fill="#3a88b4"/>
<rect x="331.15" y="8.8" width="1.7" height="6.4" fill="#3a88b4"/>
<path d="M363.8,16.2 L369.2,20.8" stroke="#8a6400" stroke-width="3.6" stroke-linecap="round"/>
<path d="M364.0,16.4 L369.0,20.6" stroke="#f0d040" stroke-width="2" stroke-linecap="round"/>
<circle cx="360.2" cy="12" r="5.6" fill="url(#gLens)" stroke="#2a78cc" stroke-width="1.2"/>
<rect x="357.0" y="11.2" width="6.4" height="1.7" fill="#3a88b4"/>
<rect x="382" y="6" width="8" height="8" fill="url(#gGreenSq)"/>
<path d="M383.6,8.9 h4.8 a0.6,0.6 0 0 1 0.6,0.6 v3.4 h-1.5 v-0.9 h-3 v0.9 h-1.5 v-3.4 a0.6,0.6 0 0 1 0.6,-0.6 Z" fill="#fff"/>
<rect x="384.3" y="10.1" width="3.4" height="0.9" fill="#90d870"/>
<rect x="383.2" y="7.1" width="1" height="1" fill="#fff" opacity="0.7"/>
<rect x="390" y="6" width="8" height="8" fill="url(#gBlueSq)"/>
<path d="M391.6,8.9 h4.8 a0.6,0.6 0 0 1 0.6,0.6 v3.4 h-1.5 v-0.9 h-3 v0.9 h-1.5 v-3.4 a0.6,0.6 0 0 1 0.6,-0.6 Z" fill="#fff"/>
<rect x="392.3" y="10.1" width="3.4" height="0.9" fill="#7090f0"/>
<rect x="391.2" y="7.1" width="1" height="1" fill="#fff" opacity="0.7"/>
<rect x="382" y="14" width="8" height="8" fill="url(#gBlueSq)"/>
<path d="M383.6,16.9 h4.8 a0.6,0.6 0 0 1 0.6,0.6 v3.4 h-1.5 v-0.9 h-3 v0.9 h-1.5 v-3.4 a0.6,0.6 0 0 1 0.6,-0.6 Z" fill="#fff"/>
<rect x="384.3" y="18.1" width="3.4" height="0.9" fill="#7090f0"/>
<rect x="383.2" y="15.1" width="1" height="1" fill="#fff" opacity="0.7"/>
<rect x="390" y="14" width="8" height="8" fill="url(#gGreenSq)"/>
<path d="M391.6,16.9 h4.8 a0.6,0.6 0 0 1 0.6,0.6 v3.4 h-1.5 v-0.9 h-3 v0.9 h-1.5 v-3.4 a0.6,0.6 0 0 1 0.6,-0.6 Z" fill="#fff"/>
<rect x="392.3" y="18.1" width="3.4" height="0.9" fill="#90d870"/>
<rect x="391.2" y="15.1" width="1" height="1" fill="#fff" opacity="0.7"/>
<g fill="#505050" shape-rendering="crispEdges"><rect x="420" y="9" width="1" height="13"/><rect x="418" y="19" width="12" height="1"/></g>
<polygon points="418.2,10.5 420.5,7.6 422.8,10.5" fill="#505050"/>
<polygon points="429.5,17.2 432.4,19.5 429.5,21.8" fill="#505050"/>
<path d="M425.3,10.4 L428.8,13.5 L425.3,16.6 Z" fill="#b0f0b0" stroke="#10a010" stroke-width="1.1" stroke-linejoin="miter"/>
<g fill="#505050" shape-rendering="crispEdges"><rect x="448" y="9" width="1" height="13"/><rect x="446" y="19" width="12" height="1"/></g>
<polygon points="446.2,10.5 448.5,7.6 450.8,10.5" fill="#505050"/>
<polygon points="457.5,17.2 460.4,19.5 457.5,21.8" fill="#505050"/>
<rect x="454" y="8" width="1.2" height="10" fill="#1878b0"/>
<path d="M455.4,13.5 L458.2,11.3 L458.2,12.9 L460,12.9 L460,14.1 L458.2,14.1 L458.2,15.7 Z" fill="#e04800"/>
<path d="M479.5,6.8 H487.5 L490.5,9.8 V19.2 H479.5 Z" fill="#fcfcfc" stroke="#909090" stroke-width="0.9"/>
<path d="M487.5,6.8 V9.8 H490.5" fill="#e4e4e4" stroke="#909090" stroke-width="0.7"/>
<path d="M483.8,9.5 c-1.6,0 -1.6,1.2 -1.6,3.5 s0,3.5 -1,3.5" fill="none" stroke="#4a4030" stroke-width="0.9"/>
<path d="M487.4,12.4 H490.6 V16 H494.4 V19.4 H490.6 V23.2 H487.4 V19.4 H483.6 V16 H487.4 Z" fill="url(#gPlus)" stroke="#0c9a0c" stroke-width="0.8"/>
<polygon points="500.4,13 506.4,13 503.4,16.2" fill="#000"/>
<circle cx="524.9" cy="14" r="7.6" fill="url(#gClock)" stroke="#0840a0" stroke-width="0.6"/>
<circle cx="524.9" cy="14" r="5.1" fill="#fafcff"/>
<path d="M524.6,10.5 V14.3 H527.4" fill="none" stroke="#303030" stroke-width="1.1"/>
<g fill="#8090a0"><rect x="524.6" y="9.4" width="0.7" height="0.9"/><rect x="524.6" y="17.7" width="0.7" height="0.9"/><rect x="520.3" y="13.7" width="0.9" height="0.7"/><rect x="528.6" y="13.7" width="0.9" height="0.7"/></g>
<polygon points="539.5,13 545.5,13 542.5,16.2" fill="#000"/>
<rect x="556.5" y="7.5" width="15" height="13" fill="#fff" stroke="#2a68c0" stroke-width="1"/>
<rect x="557" y="8" width="14" height="2" fill="#4a90e0"/><rect x="557" y="14.4" width="14" height="1" fill="#4a90e0"/>
<path d="M558.5,13 L560.5,13 L562,12 L564,11.5 L565.5,12.3 L567.5,12 L569.5,11.2" fill="none" stroke="#a81c08" stroke-width="1.1"/>
<path d="M558.5,18.3 L560.5,18 L562,17.2 L564,18 L566,16.5 L567.5,16.3 L569.5,18.5" fill="none" stroke="#0a8a1a" stroke-width="1.1"/>
<polygon points="578.4,13 584.4,13 581.4,16.2" fill="#000"/>
<path d="M608,6.8 L608,18 L610.6,15.6 L612.8,20.9 L614.6,20.1 L612.4,15 L616.2,14.6 Z" fill="#505050"/>
<g fill="#484848" shape-rendering="crispEdges"><rect x="640" y="7" width="1" height="6"/><rect x="640" y="16" width="1" height="6"/><rect x="633" y="14" width="6" height="1"/><rect x="642" y="14" width="6" height="1"/><rect x="640" y="14" width="1" height="1" fill="#8a8a60"/></g>
<rect x="674" y="8" width="1.4" height="13" fill="#505050"/>
<rect x="697" y="13.8" width="12" height="1.4" fill="#505050"/>
<path d="M725,20.8 L737.1,8.9" stroke="#505050" stroke-width="1.2" fill="none"/>
<g stroke="#484848" fill="none">
<path d="M751,16 L760,7.5" stroke-width="1" stroke-dasharray="1 0.8"/>
<path d="M753,20.5 L765,9" stroke-width="1" stroke-dasharray="1 0.8"/>
<path d="M757,21 L765.5,12.8" stroke-width="1" stroke-dasharray="1 0.8"/>
<path d="M753.5,20 L755,14.5 L756.5,17.5 L758.5,11.5 L760,15 L762.5,6.5 L763,12.5 L764.5,11" stroke-width="1.1"/>
</g>
<text x="761.8" y="22.7" font-family="'Liberation Sans',sans-serif" font-weight="bold" font-size="6.6px" fill="#404040">E</text>
<g stroke="#505050" stroke-width="1" stroke-dasharray="1 1" fill="none" shape-rendering="crispEdges"><path d="M780,7.5 H794"/><path d="M780,10.5 H794"/><path d="M780,14.5 H794"/><path d="M780,18.5 H789"/></g>
<text x="789.6" y="22.9" font-family="'Liberation Sans',sans-serif" font-weight="bold" font-size="6.6px" fill="#404040">F</text>
<text x="814.6" y="19" text-anchor="middle" font-family="'Liberation Sans',sans-serif" font-size="12.6px" fill="#505050" stroke="#505050" stroke-width="0.35">A</text>
<rect x="837.5" y="8.5" width="11" height="12" fill="none" stroke="#505050" stroke-width="1" stroke-dasharray="1 1" shape-rendering="crispEdges"/>
<rect x="836" y="7" width="2" height="2" fill="#505050"/>
<text x="843" y="19" text-anchor="middle" font-family="'Liberation Sans',sans-serif" font-weight="bold" font-size="11.5px" fill="#505050">T</text>
<path d="M867.6,7.8 L871.2,11 L867.6,12.6 L864,11 Z" fill="#484848"/>
<path d="M874.6,21.4 L878.2,18.2 L874.6,16.6 L871,18.2 Z" fill="#484848"/>
<path d="M866,15.5 L868.3,17.6 L873,11.8" fill="none" stroke="#484848" stroke-width="1.3"/>
<polygon points="884.4,13 890.4,13 887.4,16.2" fill="#000"/>
<text x="917.9" y="17.5" text-anchor="middle" font-family="'Liberation Sans',sans-serif" font-size="9.8px" stroke="#303030" stroke-width="0.15" fill="#303030">M1</text>
<text x="946" y="17.5" text-anchor="middle" font-family="'Liberation Sans',sans-serif" font-size="9.8px" stroke="#303030" stroke-width="0.15" fill="#303030">M5</text>
<text x="974.4" y="17.5" text-anchor="middle" font-family="'Liberation Sans',sans-serif" font-size="9.8px" stroke="#303030" stroke-width="0.15" fill="#303030">M15</text>
<text x="1002.4" y="17.5" text-anchor="middle" font-family="'Liberation Sans',sans-serif" font-size="9.8px" stroke="#303030" stroke-width="0.15" fill="#303030">M30</text>
<text x="1030.5" y="17.5" text-anchor="middle" font-family="'Liberation Sans',sans-serif" font-size="9.8px" stroke="#303030" stroke-width="0.15" fill="#303030">H1</text>
<text x="1057.8" y="17.5" text-anchor="middle" font-family="'Liberation Sans',sans-serif" font-size="9.8px" stroke="#303030" stroke-width="0.15" fill="#303030">H4</text>
<text x="1086.4" y="17.5" text-anchor="middle" font-family="'Liberation Sans',sans-serif" font-size="9.8px" stroke="#303030" stroke-width="0.15" fill="#303030">D1</text>
<text x="1115.1" y="17.5" text-anchor="middle" font-family="'Liberation Sans',sans-serif" font-size="9.8px" stroke="#303030" stroke-width="0.15" fill="#303030">W1</text>
<text x="1141.9" y="17.5" text-anchor="middle" font-family="'Liberation Sans',sans-serif" font-size="9.8px" stroke="#303030" stroke-width="0.15" fill="#303030">MN</text>
<path d="M1624.8,14.4 L1619.8,18.6" stroke="#2858d0" stroke-width="2.6" stroke-linecap="round"/>
<path d="M1624.8,14.4 L1619.8,18.6" stroke="#7aa0f0" stroke-width="0.8" stroke-dasharray="0.8 0.8"/>
<circle cx="1627.6" cy="11.4" r="4" fill="#f4f8ff" stroke="#2858d0" stroke-width="1.3"/>
<path d="M1660.3,6 c3.6,0 6.4,2 6.4,4.5 c0,1.6 -1.2,3 -3,3.8 l0.8,2.6 l-2.6,-2 c-0.5,0.1 -1,0.1 -1.6,0.1 c-3.6,0 -6.4,-2 -6.4,-4.5 c0,-2.500 2.8,-4.500 6.4,-4.500 Z" fill="url(#gBub)" stroke="#9a9a9a" stroke-width="0.8"/>
<path d="M1651.3,11.300 c2.800,0 5,1.700 5,3.800 c0,2.100 -2.200,3.800 -5,3.800 c-0.500,0 -1,-0.050 -1.400,-0.150 l-2.200,1.800 l0.600,-2.400 c-1.200,-0.700 -2,-1.800 -2,-3.050 c0,-2.100 2.200,-3.800 5,-3.800 Z" fill="url(#gBub)" stroke="#9a9a9a" stroke-width="0.8"/>
</g>
</svg>
</body></html>
